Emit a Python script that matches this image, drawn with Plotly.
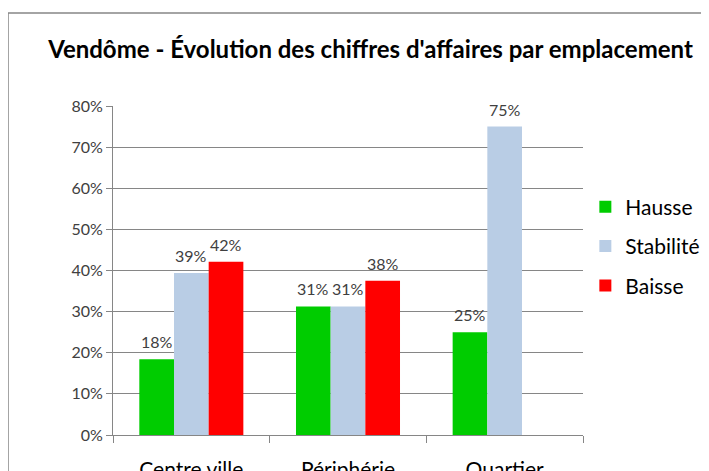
import plotly.graph_objects as go

# Répartition des réponses par emplacement
emplacements = ["Centre ville", "Périphérie", "Quartier"]
hausse = [0.184, 0.3125, 0.25]
stabilite = [0.394, 0.3125, 0.75]
baisse = [0.421, 0.375, None]

series = [
    ("Hausse", hausse, "#00CC00"),
    ("Stabilité", stabilite, "#B9CDE5"),
    ("Baisse", baisse, "#FF0000"),
]

# la page a une marge de 8 px : figure réduite d'autant pour tenir dans la fenêtre
fig_w, fig_h = 701, 463
plot_w, plot_h = 470, 329
bargap = 0.336
bar_px = plot_w / len(emplacements) * (1 - bargap) / len(series)

fig = go.Figure()
for i, (name, values, color) in enumerate(series):
    fig.add_trace(go.Bar(
        x=emplacements,
        y=values,
        name=name,
        legendgroup=name,
        marker=dict(color=color, line=dict(width=0)),
    ))
    # étiquettes de données au-dessus des barres
    for cat, v in zip(emplacements, values):
        if v is None:
            continue
        fig.add_annotation(
            x=cat, y=v, text=f"{v:.0%}", showarrow=False,
            xshift=(i - 1) * bar_px, yshift=6, yanchor="bottom",
            font=dict(size=16, color="#404040"),
        )

grid = "#868686"
fig.update_layout(
    width=fig_w, height=fig_h,
    margin=dict(l=105, r=fig_w - 105 - plot_w, t=98, b=fig_h - 98 - plot_h,
                autoexpand=False),
    paper_bgcolor="white", plot_bgcolor="white",
    font=dict(family="Lato", color="#404040"),
    barmode="group", bargap=bargap, bargroupgap=0,
    title=dict(
        text="<b>Vendôme - Évolution des chiffres d'affaires par emplacement</b>",
        x=362.5 / fig_w, xanchor="center", y=1 - 42 / fig_h, yanchor="middle",
        xref="container", yref="container",
        font=dict(size=24, color="black", family="Lato"),
    ),
    legend=dict(
        x=1.005, xanchor="left", y=0.574, yanchor="middle",
        font=dict(size=21, color="black"),
        tracegroupgap=9, itemclick=False,
    ),
    showlegend=True,
)
fig.update_yaxes(
    range=[0, 0.8], dtick=0.1, tickformat=".0%",
    showgrid=True, gridcolor=grid, gridwidth=1,
    showline=True, linecolor=grid, linewidth=1,
    ticks="outside", ticklen=6, tickcolor=grid,
    tickfont=dict(size=16, color="#404040"),
    zeroline=False, automargin=False,
)
fig.update_xaxes(
    showline=True, linecolor=grid, linewidth=1,
    ticks="outside", ticklen=7, tickcolor=grid, tickson="boundaries",
    tickfont=dict(size=21, color="black"),
    ticklabelstandoff=16,
    showgrid=False, automargin=False,
)

# cadre du graphique (coupé à droite et en bas comme la capture)
fig.add_shape(type="rect", xref="paper", yref="paper",
              x0=-0.2234, x1=1.4, y0=-0.2, y1=1.2827,
              line=dict(color=grid, width=1.5), layer="below")

fig.write_html("out.html", config={"displayModeBar": False})
